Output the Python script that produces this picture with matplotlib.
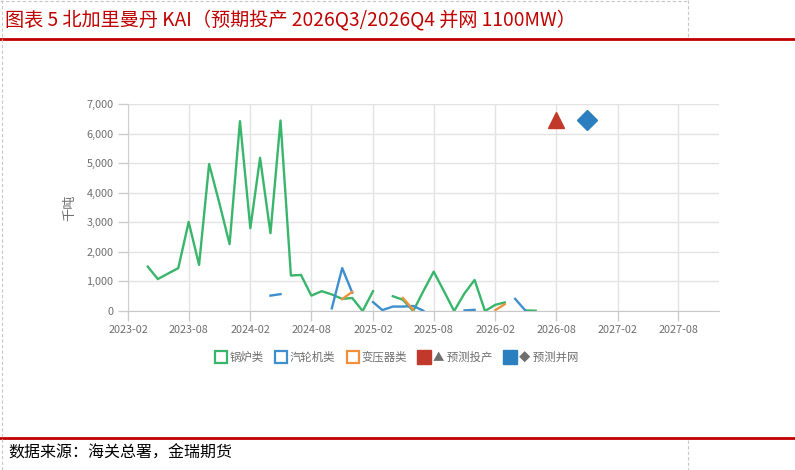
import numpy as np
import pandas as pd
import matplotlib
matplotlib.use("Agg")
import matplotlib.pyplot as plt
from matplotlib.lines import Line2D
from matplotlib.ticker import FuncFormatter

plt.rcParams['font.family'] = ['Noto Sans CJK SC', 'DejaVu Sans']

# monthly index 2023-04 .. 2026-06, None = no data that month
MONTHS = pd.date_range("2023-04-01", "2026-06-01", freq="MS")

BOILER = {
    "2023-04": 1500, "2023-05": 1080, "2023-06": 1270, "2023-07": 1450,
    "2023-08": 3010, "2023-09": 1560, "2023-10": 4970, "2023-11": 3630,
    "2023-12": 2260, "2024-01": 6420, "2024-02": 2800, "2024-03": 5180,
    "2024-04": 2630, "2024-05": 6440, "2024-06": 1200, "2024-07": 1220,
    "2024-08": 520, "2024-09": 670, "2024-10": 560, "2024-11": 410,
    "2024-12": 440, "2025-01": 0, "2025-02": 670,
    "2025-04": 500, "2025-05": 380, "2025-06": 0, "2025-07": 670,
    "2025-08": 1330, "2025-09": 660, "2025-10": 0, "2025-11": 600,
    "2025-12": 1050, "2026-01": 0, "2026-02": 210, "2026-03": 290,
    "2026-05": 20, "2026-06": 10,
}

TURBINE = {
    "2024-04": 520, "2024-05": 570,
    "2024-10": 90, "2024-11": 1450, "2024-12": 620,
    "2025-02": 300, "2025-03": 30, "2025-04": 150, "2025-05": 150,
    "2025-06": 170, "2025-07": 10,
    "2025-11": 20, "2025-12": 40,
    "2026-04": 410, "2026-05": 20,
}

TRANSFORMER = {
    "2024-11": 400, "2024-12": 650,
    "2025-05": 440, "2025-06": 40,
    "2026-02": 30, "2026-03": 230,
}

PLAN_PROD = ("2026-08-01", 6450)
PLAN_GRID = ("2026-11-01", 6450)

SERIES_LABELS = ["锅炉类", "汽轮机类", "变压器类", "▲ 预测投产", "◆ 预测并网"]

GREEN = "#3ab56c"
BLUE = "#3d8fce"
ORANGE = "#f0913a"
RED = "#c0392b"
DBLUE = "#2b7fbe"
GRID = "#e3e3e3"
TXT = "#6e6e6e"

W, H = 795, 470
fig = plt.figure(figsize=(W / 100, H / 100), dpi=100)


def fx(px):
    return px / W


def fy(py):
    return 1 - py / H


def to_arr(d):
    return np.array([d.get(m.strftime("%Y-%m"), np.nan) for m in MONTHS], dtype=float)


ax = fig.add_axes([fx(128), fy(311), fx(719.3) - fx(128), fy(104) - fy(311)])

ax.plot(MONTHS, to_arr(BOILER), color=GREEN, lw=1.7, solid_joinstyle="round")
ax.plot(MONTHS, to_arr(TURBINE), color=BLUE, lw=1.7, solid_joinstyle="round")
ax.plot(MONTHS, to_arr(TRANSFORMER), color=ORANGE, lw=1.7, solid_joinstyle="round")
ax.plot(pd.Timestamp(PLAN_PROD[0]), PLAN_PROD[1], marker="^", ms=12, color=RED, mec=RED)
ax.plot(pd.Timestamp(PLAN_GRID[0]), PLAN_GRID[1], marker="D", ms=10, color=DBLUE, mec=DBLUE)

ax.set_xlim(pd.Timestamp("2023-02-01"), pd.Timestamp("2027-12-01"))
ax.set_ylim(0, 7000)
ax.set_yticks(range(0, 7001, 1000))
ax.yaxis.set_major_formatter(FuncFormatter(lambda v, p: "{:,.0f}".format(v)))
xt = pd.date_range("2023-02-01", "2027-08-01", freq="6MS")
ax.set_xticks(xt)
ax.set_xticklabels([d.strftime("%Y-%m") for d in xt])

ax.grid(True, color=GRID, lw=1)
ax.set_axisbelow(True)
for s in ["top", "right"]:
    ax.spines[s].set_visible(False)
ax.spines["left"].set_color("#d0d0d0")
ax.spines["bottom"].set_color("#c8c8c8")
ax.tick_params(axis="both", colors="#cccccc", length=7, width=1, labelcolor=TXT, labelsize=7.8)
ax.tick_params(axis="x", pad=3)
ax.set_ylabel("千吨", color=TXT, fontsize=9.5, labelpad=7)

# legend
handles = [
    Line2D([], [], ls="none", marker="s", ms=8, mfc="white", mec=GREEN, mew=1.6),
    Line2D([], [], ls="none", marker="s", ms=8, mfc="white", mec=BLUE, mew=1.6),
    Line2D([], [], ls="none", marker="s", ms=8, mfc="white", mec=ORANGE, mew=1.6),
    Line2D([], [], ls="none", marker="s", ms=10, mfc=RED, mec=RED),
    Line2D([], [], ls="none", marker="s", ms=10, mfc=DBLUE, mec=DBLUE),
]
leg = fig.legend(handles, SERIES_LABELS, loc="center", bbox_to_anchor=(fx(396), fy(357)),
                 ncol=5, frameon=False, fontsize=8.2, handletextpad=0.2,
                 columnspacing=0.9, handlelength=1.2)
for t in leg.get_texts():
    t.set_color(TXT)

# title, frame lines, source
fig.text(fx(5), fy(20), "图表 5 北加里曼丹 KAI（预期投产 2026Q3/2026Q4 并网 1100MW）",
         color="#c00000", fontsize=13.8, va="center", ha="left")
fig.add_artist(Line2D([0, 1], [fy(39), fy(39)], color="#c00000", lw=2))
fig.add_artist(Line2D([0, 1], [fy(438), fy(438)], color="#c00000", lw=2))
fig.add_artist(Line2D([0, fx(688)], [fy(1), fy(1)], color="#c8c8c8", lw=0.8, ls=(0, (3, 2))))
fig.add_artist(Line2D([fx(688), fx(688)], [fy(0), fy(38)], color="#c8c8c8", lw=0.8, ls=(0, (3, 2))))
fig.add_artist(Line2D([fx(688), fx(688)], [fy(440), fy(470)], color="#c8c8c8", lw=0.8, ls=(0, (3, 2))))
fig.add_artist(Line2D([fx(2), fx(2)], [0, 1], color="#c8c8c8", lw=0.8, ls=(0, (3, 2))))
fig.text(fx(8), fy(453), "数据来源：海关总署，金瑞期货", color="black",
         fontsize=11.5, style="italic", va="center", ha="left")

fig.savefig("out.png", dpi=100)
